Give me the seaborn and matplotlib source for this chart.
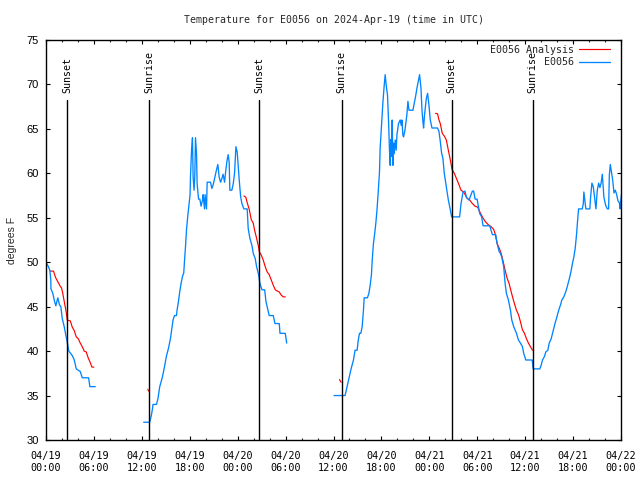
import numpy as np
import pandas as pd
import matplotlib
matplotlib.use("Agg")
import matplotlib.pyplot as plt
import matplotlib.dates as mdates
import seaborn as sns

# ---------------- data (hours after 2024-04-19 00:00 UTC, degrees F) ----------------
obs1_h = [0.0, 0.3, 0.48, 0.6, 0.62, 0.85, 1.07, 1.23, 1.48, 1.69, 1.86, 2.03, 2.28, 2.48,
          2.61, 2.86, 3.29, 3.54, 3.79, 4.29, 4.54, 5.33, 5.5, 6.17]
obs1_t = [50, 49.5, 49.1, 48, 47, 46.5, 45.6, 45.1, 46.0, 45.2, 45, 43.7, 42.75, 41.8,
          41.25, 40, 39.5, 39, 38, 37.7, 37, 37, 36, 36]

obs2_h = [12.23, 12.99, 13.2, 13.33, 13.4, 13.83, 14.03, 14.24, 14.58, 14.83, 15.07, 15.33,
          15.58, 15.75, 15.91, 16.09, 16.34, 16.41, 16.59, 16.75, 16.91, 17.09, 17.25, 17.34,
          17.47, 17.59, 17.75, 17.92, 18.04, 18.09, 18.22, 18.34, 18.42, 18.54, 18.63, 18.72,
          18.85, 18.92, 19.1, 19.26, 19.42, 19.6, 19.67, 19.85, 19.92, 20.1, 20.18, 20.6,
          20.77, 20.93, 21.18, 21.35, 21.52, 21.68, 21.86, 22.02, 22.18, 22.36, 22.52, 22.68,
          22.81, 22.94, 23.02, 23.27, 23.44, 23.61, 23.78, 23.94, 24.12, 24.19, 24.37, 24.53,
          24.78, 25.19, 25.32, 25.53, 25.78, 25.95, 26.2, 26.37, 26.62, 26.79, 27.04, 27.38,
          27.54, 27.79, 27.95, 28.46, 28.67, 29.21, 29.3, 29.96, 30.14]
obs2_t = [32, 32, 32.8, 33.5, 34, 34, 34.7, 36, 37.1, 38.2, 39.4, 40.3,
          41.4, 42.5, 43.5, 44, 44, 44.6, 45.6, 46.7, 47.6, 48.4, 48.8, 50.1,
          51.8, 53.6, 55.2, 56.6, 57.6, 59.6, 62.5, 64, 59.6, 58.1, 59.6, 64,
          62.2, 58.9, 57.1, 57.1, 56.3, 57, 57.6, 56, 57.6, 56, 59, 59,
          58.3, 58.7, 59.7, 60.4, 61, 59.6, 59, 59.4, 59.9, 59, 60.4, 61.5,
          62.1, 61.2, 58.1, 58.1, 58.8, 60, 63, 62.4, 60.2, 59.3, 57.4, 56.6,
          56, 56, 53.8, 52.7, 51.9, 51, 50.4, 49.5, 48.6, 47.6, 46.9, 46.9,
          45.6, 44.6, 44, 44, 43.1, 43.1, 42, 42, 40.9]

obs3_h = [36.07, 37.45, 37.7, 37.95, 38.2, 38.5, 38.7, 38.96, 39.08, 39.25, 39.42, 39.59,
          39.75, 39.84, 40.25, 40.43, 40.59, 40.75, 40.84, 41.0, 41.18, 41.3, 41.43, 41.59,
          41.76, 41.84, 42.01, 42.18, 42.35, 42.47, 42.6, 42.76, 42.89, 43.01, 43.1, 43.19,
          43.26, 43.35, 43.44, 43.51, 43.6, 43.73, 43.85, 43.94, 44.14, 44.35, 44.48, 44.57,
          44.69, 44.77, 44.94, 45.19, 45.32, 45.45, 45.95, 46.11, 46.27, 46.45, 46.61, 46.78,
          46.95, 47.08, 47.2, 47.28, 47.4, 47.62, 47.78, 47.95, 48.12, 48.33, 49.03, 49.21,
          49.37, 49.54, 49.7, 49.87, 50.13, 50.38, 50.63, 50.79, 51.79, 51.97, 52.22, 52.47,
          52.64, 52.97, 53.14, 53.39, 53.55, 53.73, 53.98, 54.14, 54.3, 54.55, 54.73, 55.56,
          55.73, 55.9, 56.31, 56.49, 56.74, 56.9, 57.06, 57.31, 57.49, 57.65, 57.9, 58.16,
          58.32, 58.57, 58.91, 59.16, 59.41, 59.66, 59.82, 60.08, 60.88, 61.0, 61.83, 62.0,
          62.17, 62.42, 62.58, 62.84, 63.01, 63.26, 63.43, 63.59, 63.76, 63.93, 64.09, 64.27,
          64.43, 64.59, 64.84, 65.09, 65.27, 65.43, 65.6, 65.77, 65.93, 66.1, 66.27, 66.44,
          66.6, 66.69, 67.15, 67.28, 67.35, 67.53, 67.6, 68.1, 68.19, 68.36, 68.53, 68.69,
          68.86, 69.03, 69.2, 69.36, 69.51, 69.66, 69.86, 70.08, 70.29, 70.45, 70.54, 70.66,
          70.79, 70.95, 71.12, 71.29, 71.46, 71.62, 71.8, 71.87, 72.05]
obs3_t = [35, 35, 36, 37, 38, 39, 40.1, 40.1, 41.1, 42, 42, 42.75,
          44.6, 46, 46, 46.5, 47.4, 48.6, 50.1, 52.1, 53.4, 54.4, 55.7, 57.75,
          60.2, 62.8, 65.4, 67.9, 69.9, 71.1, 69.9, 68.8, 66, 62.6, 60.9, 63.8,
          61.9, 66, 60.9, 63.4, 62.2, 63.75, 62.6, 64.3, 65.6, 66, 65.4, 66,
          64.3, 64.1, 64.8, 66.6, 68.1, 67.1, 67.1, 67.9, 68.6, 69.6, 70.3, 71.1,
          69.6, 67.1, 65.8, 65.1, 66.6, 68.4, 69, 67.7, 66, 65.1, 65.1, 64.7,
          63.6, 62.25, 61.7, 60, 58.5, 57, 55.9, 55.1, 55.1, 56.6, 57.9, 58,
          57.3, 57, 57.4, 58, 58, 57.1, 57.1, 56.3, 55.5, 55.1, 54.1, 54.1,
          53.6, 53.1, 53.1, 52.1, 51.2, 51, 50.6, 49.5, 47.6, 46.5, 45.75, 44.6,
          43.5, 42.75, 42, 41.25, 40.9, 40.5, 39.75, 39, 39, 38, 38, 38.4,
          39, 39.4, 39.9, 40.1, 40.9, 41.4, 42, 42.6, 43.2, 43.7, 44.25, 44.8,
          45.2, 45.75, 46.1, 46.7, 47.25, 47.8, 48.4, 49.1, 49.9, 50.6, 51.6, 53.2,
          55.1, 56, 56, 56.6, 57.9, 56.6, 56, 56, 57.3, 58.9, 58.5, 57.3,
          56, 58.1, 58.9, 58.4, 58.9, 59.9, 57.3, 56.4, 56, 56, 59.8, 61,
          60.2, 59.3, 57.8, 58.1, 57.6, 56.9, 56.7, 56, 57.6]

ana1_h = [0.53, 0.94, 1.19, 1.48, 1.78, 1.95, 2.1, 2.28, 2.53, 2.66, 3.04, 3.29, 3.54,
          3.79, 4.04, 4.29, 4.54, 4.79, 5.04, 5.3, 5.55, 5.75, 6.0]
ana1_t = [49.0, 49.0, 48.3, 47.8, 47.3, 47.1, 46.5, 45.6, 44.4, 43.5, 43.4, 42.7, 42.3,
          41.6, 41.4, 40.9, 40.5, 40.0, 39.9, 39.2, 38.7, 38.2, 38.2]
ana2_h = [12.75, 12.95]
ana2_t = [35.7, 35.4]
ana3_h = [24.78, 25.03, 25.19, 25.45, 25.7, 25.95, 26.12, 26.37, 26.62, 26.7, 26.95, 27.2,
          27.45, 27.7, 27.95, 28.21, 28.46, 28.71, 28.88, 29.21, 29.46, 29.71, 29.96]
ana3_t = [57.45, 57.3, 56.7, 55.95, 54.8, 54.4, 53.6, 52.7, 51.7, 51.2, 50.8, 50.25,
          49.5, 48.9, 48.6, 48.0, 47.4, 46.9, 46.8, 46.65, 46.3, 46.1, 46.1]
ana4_h = [36.75, 36.95]
ana4_t = [36.8, 36.5]
ana5_h = [48.78, 49.03, 49.21, 49.37, 49.62, 49.87, 50.13, 50.38, 50.63, 50.84, 51.13,
          51.47, 51.72, 51.97, 52.3, 52.72, 53.05, 53.39, 53.73, 54.05, 54.3, 54.64, 54.98,
          55.4, 55.73, 56.06, 56.27, 56.49, 56.74, 56.99, 57.24, 57.49, 57.74, 57.99, 58.24,
          58.57, 58.91, 59.16, 59.41, 59.66, 59.91, 60.16, 60.41, 60.66, 60.92, 61.08]
ana5_t = [66.75, 66.7, 66.0, 65.6, 64.5, 64.2, 63.75, 62.6, 61.5, 60.45, 60.0,
          59.25, 58.7, 58.1, 57.9, 57.2, 57.0, 56.6, 56.3, 56.2, 55.7, 55.1, 54.6,
          54.2, 54.0, 53.7, 53.1, 52.1, 51.6, 51.0, 50.1, 49.1, 48.2, 47.6, 46.7,
          45.6, 44.6, 44.1, 43.3, 42.4, 42.0, 41.4, 40.9, 40.5, 40.1, 40.1]

sun_h = [2.62, 12.9, 26.66, 37.04, 50.79, 60.95]
sun_labels = ["Sunset", "Sunrise", "Sunset", "Sunrise", "Sunset", "Sunrise"]

title = "Temperature for E0056 on 2024-Apr-19 (time in UTC)"
ylabel = "degrees F"
series_names = ["E0056 Analysis", "E0056"]
start = pd.Timestamp("2024-04-19 00:00")
end = pd.Timestamp("2024-04-22 00:00")
yticks = [30, 35, 40, 45, 50, 55, 60, 65, 70, 75]

# ---------------- build frames ----------------
def frame(hlist, tlist, seg):
    return pd.DataFrame({"time": start + pd.to_timedelta(np.array(hlist), unit="h"),
                         "temp": tlist, "seg": seg})

obs = pd.concat([frame(obs1_h, obs1_t, 1), frame(obs2_h, obs2_t, 2), frame(obs3_h, obs3_t, 3)])
ana = pd.concat([frame(ana1_h, ana1_t, 1), frame(ana2_h, ana2_t, 2), frame(ana3_h, ana3_t, 3),
                 frame(ana4_h, ana4_t, 4), frame(ana5_h, ana5_t, 5)])

sns.set_style("ticks")
MONO = "DejaVu Sans Mono"
SANS = "Liberation Sans"
plt.rcParams["font.family"] = [SANS, "DejaVu Sans"]

BLUE = "#0085ff"
RED = "#ff0000"

fig = plt.figure(figsize=(6.4, 4.8), dpi=100)
ax = fig.add_axes([46 / 640, 40 / 480, 575 / 640, 400 / 480])

sns.lineplot(data=ana, x="time", y="temp", units="seg", estimator=None, color=RED,
             lw=0.85, ax=ax, sort=False)
sns.lineplot(data=obs, x="time", y="temp", units="seg", estimator=None, color=BLUE,
             lw=0.95, ax=ax, sort=False)

ax.set_xlim(start, end)
ax.set_ylim(30, 75)

# sunrise / sunset markers
for h, lab in zip(sun_h, sun_labels):
    t = start + pd.Timedelta(hours=h)
    ax.axvline(t, ymin=0, ymax=(68.3 - 30) / 45, color="black", lw=1.0)
    ax.text(t, 69.0, lab, rotation=90, ha="center", va="bottom",
            family=MONO, fontsize=7.2, color="black")

# axes styling
ax.xaxis.set_major_locator(mdates.HourLocator(byhour=[0, 6, 12, 18]))
ax.xaxis.set_minor_locator(mdates.HourLocator(interval=2))
ax.xaxis.set_major_formatter(mdates.DateFormatter("%m/%d\n%H:%M"))
ax.set_yticks(yticks)
for lbl in ax.get_xticklabels():
    lbl.set_family(MONO)
    lbl.set_fontsize(7.3)
for lbl in ax.get_yticklabels():
    lbl.set_fontsize(8)
ax.tick_params(axis="both", which="major", direction="in", length=3.1, width=0.8,
               top=True, right=True, colors="black")
ax.tick_params(axis="x", which="major", pad=8)
ax.tick_params(axis="y", which="major", pad=5)
ax.tick_params(axis="x", which="minor", direction="in", length=1.6, width=0.8,
               top=True, bottom=True)
for s in ax.spines.values():
    s.set_visible(True)
    s.set_color("black")
    s.set_linewidth(1.0)

ax.set_xlabel("")
ax.set_ylabel(ylabel, fontsize=7.5, labelpad=7)
ax.set_title(title, family=MONO, fontsize=7.1, pad=12)

# legend (text right-aligned via monospace padding)
from matplotlib.lines import Line2D
width = max(len(n) for n in series_names)
handles = [Line2D([], [], color=RED, lw=0.85), Line2D([], [], color=BLUE, lw=0.95)]
labels = [n.rjust(width) for n in series_names]
leg = ax.legend(handles, labels, loc="upper right", bbox_to_anchor=(1 - 11 / 575, 1 - 5 / 400),
                frameon=False, markerfirst=False, borderaxespad=0, borderpad=0,
                handlelength=3.1, handletextpad=0.5, labelspacing=0.25,
                prop={"family": MONO, "size": 7.2})

fig.savefig("out.png", dpi=100)
